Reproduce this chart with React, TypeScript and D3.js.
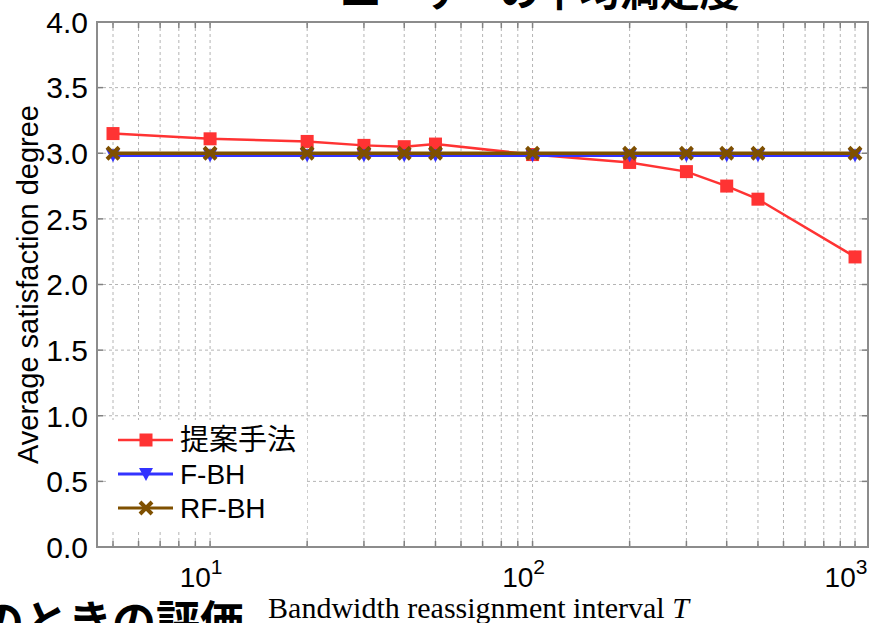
import * as d3 from 'd3';
import React, { useEffect, useRef } from 'react';

// data
const intervals = [5, 10, 20, 30, 40, 50, 100, 200, 300, 400, 500, 1000];
const proposed = [3.15, 3.11, 3.09, 3.06, 3.05, 3.07, 2.99, 2.93, 2.86, 2.75, 2.65, 2.21];
const fbh = [2.985, 2.985, 2.985, 2.985, 2.985, 2.985, 2.985, 2.985, 2.985, 2.985, 2.985, 2.985];
const rfbh = [3.0, 3.0, 3.0, 3.0, 3.0, 3.0, 3.0, 3.0, 3.0, 3.0, 3.0, 3.0];
const seriesNames = ['提案手法', 'F-BH', 'RF-BH'];
const seriesColors = ['#ff3333', '#3333ff', '#7f5000'];
const yTicks = [0, 0.5, 1.0, 1.5, 2.0, 2.5, 3.0, 3.5, 4.0];
const xMajor = [10, 100, 1000];

const W = 879;
const H = 623;

export default function App() {
    const ref = useRef<SVGSVGElement>(null);

    useEffect(() => {
        const svg = d3.select(ref.current);
        svg.selectAll('*').remove();

        const margin = { top: 22, right: 11, bottom: 76, left: 97 };
        const iw = W - margin.left - margin.right;
        const ih = H - margin.top - margin.bottom;

        const x = d3.scaleLog().domain([4.46, 1097]).range([0, iw]);
        const y = d3.scaleLinear().domain([0, 4]).range([ih, 0]);

        // slide text that the crop cuts off, above and below the figure
        svg.append('text')
            .attr('x', 540).attr('y', 6)
            .attr('text-anchor', 'middle')
            .attr('font-family', 'Noto Sans CJK JP')
            .attr('font-weight', 'bold')
            .attr('font-size', 40)
            .attr('fill', 'black')
            .text('ユーザーの平均満足度');
        svg.append('text')
            .attr('x', -20).attr('y', 638)
            .attr('font-family', 'Noto Sans CJK JP')
            .attr('font-weight', 'bold')
            .attr('font-size', 44)
            .attr('fill', 'black')
            .text('のときの評価');

        const g = svg.append('g')
            .attr('transform', `translate(${margin.left},${margin.top})`);

        // minor tick values 5..9, 10..90, 100..900, 1000
        const minor: number[] = [];
        [1, 10, 100].forEach((dec) => {
            for (let k = 1; k < 10; k++) {
                const v = k * dec;
                if (v >= 4.46) minor.push(v);
            }
        });
        minor.push(1000);

        // grid
        g.append('g').selectAll('line')
            .data(minor)
            .enter().append('line')
            .attr('x1', (d) => x(d)).attr('x2', (d) => x(d))
            .attr('y1', 0).attr('y2', ih)
            .attr('stroke', '#b4b4b4')
            .attr('stroke-width', 1)
            .attr('stroke-dasharray', '3,3');
        g.append('g').selectAll('line')
            .data(yTicks.slice(1, -1))
            .enter().append('line')
            .attr('x1', 0).attr('x2', iw)
            .attr('y1', (d) => y(d)).attr('y2', (d) => y(d))
            .attr('stroke', '#b4b4b4')
            .attr('stroke-width', 1)
            .attr('stroke-dasharray', '3,3');

        // inward ticks on all four sides
        const tickColor = '#808080';
        const tl = 6;
        minor.forEach((v) => {
            g.append('line').attr('x1', x(v)).attr('x2', x(v)).attr('y1', ih).attr('y2', ih - tl)
                .attr('stroke', tickColor).attr('stroke-width', 1.5);
            g.append('line').attr('x1', x(v)).attr('x2', x(v)).attr('y1', 0).attr('y2', tl)
                .attr('stroke', tickColor).attr('stroke-width', 1.5);
        });
        yTicks.forEach((v) => {
            g.append('line').attr('x1', 0).attr('x2', tl).attr('y1', y(v)).attr('y2', y(v))
                .attr('stroke', tickColor).attr('stroke-width', 1.5);
            g.append('line').attr('x1', iw).attr('x2', iw - tl).attr('y1', y(v)).attr('y2', y(v))
                .attr('stroke', tickColor).attr('stroke-width', 1.5);
        });

        // frame
        g.append('rect')
            .attr('width', iw).attr('height', ih)
            .attr('fill', 'none')
            .attr('stroke', '#8c8c8c')
            .attr('stroke-width', 2);

        // tick labels
        g.append('g').selectAll('text')
            .data(yTicks)
            .enter().append('text')
            .attr('x', -9)
            .attr('y', (d) => y(d))
            .attr('dy', '0.36em')
            .attr('text-anchor', 'end')
            .attr('font-family', 'Liberation Sans, Arial')
            .attr('font-size', 30)
            .attr('fill', 'black')
            .text((d) => d3.format('.1f')(d));

        const xl = g.append('g').selectAll('text')
            .data(xMajor)
            .enter().append('text')
            .attr('x', (d) => x(d) - 9)
            .attr('y', ih + 40)
            .attr('text-anchor', 'middle')
            .attr('font-family', 'Liberation Sans, Arial')
            .attr('font-size', 28)
            .attr('fill', 'black');
        xl.append('tspan').text('10');
        xl.append('tspan')
            .attr('dy', -13)
            .attr('font-size', 21)
            .text((d) => String(Math.round(Math.log10(d))));

        // axis titles
        const xt = g.append('text')
            .attr('x', iw / 2 - 4)
            .attr('y', ih + 71)
            .attr('text-anchor', 'middle')
            .attr('font-family', 'Liberation Serif, DejaVu Serif')
            .attr('font-size', 30)
            .attr('fill', 'black');
        xt.append('tspan').text('Bandwidth reassignment interval ');
        xt.append('tspan').attr('font-style', 'italic').text('T');

        g.append('text')
            .attr('transform', `translate(${-59},${ih / 2})rotate(-90)`)
            .attr('text-anchor', 'middle')
            .attr('font-family', 'Liberation Sans, Arial')
            .attr('font-size', 29)
            .attr('fill', 'black')
            .text('Average satisfaction degree');

        // series
        const allSeries = [proposed, fbh, rfbh];
        const line = d3.line<number>()
            .x((_, i) => x(intervals[i]))
            .y((d) => y(d));

        const drawMarker = (sel: d3.Selection<SVGGElement, unknown, null, undefined>, idx: number, cx: number, cy: number) => {
            const c = seriesColors[idx];
            if (idx === 0) {
                sel.append('rect').attr('x', cx - 6.5).attr('y', cy - 6.5)
                    .attr('width', 13).attr('height', 13).attr('fill', c);
            } else if (idx === 1) {
                sel.append('path')
                    .attr('d', `M${cx - 7},${cy - 6}L${cx + 7},${cy - 6}L${cx},${cy + 7}Z`)
                    .attr('fill', c);
            } else {
                sel.append('path')
                    .attr('d', `M${cx - 6},${cy - 6}L${cx + 6},${cy + 6}M${cx - 6},${cy + 6}L${cx + 6},${cy - 6}`)
                    .attr('stroke', c).attr('stroke-width', 4);
            }
        };

        allSeries.forEach((vals, idx) => {
            const sg = g.append('g');
            sg.append('path')
                .datum(vals)
                .attr('d', line)
                .attr('fill', 'none')
                .attr('stroke', seriesColors[idx])
                .attr('stroke-width', idx === 0 ? 2.5 : 3.5);
            vals.forEach((v, i) => drawMarker(sg, idx, x(intervals[i]), y(v)));
        });

        // legend
        const lg = g.append('g').attr('transform', `translate(10,${ih - 127})`);
        lg.append('rect')
            .attr('x', 0).attr('y', 0)
            .attr('width', 200).attr('height', 110)
            .attr('fill', 'white');
        seriesNames.forEach((name, idx) => {
            const ly = 20 + idx * 34;
            lg.append('line')
                .attr('x1', 11).attr('x2', 66)
                .attr('y1', ly).attr('y2', ly)
                .attr('stroke', seriesColors[idx])
                .attr('stroke-width', idx === 0 ? 2.5 : 3);
            const mg = lg.append('g');
            drawMarker(mg, idx, 39, ly);
            lg.append('text')
                .attr('x', 73)
                .attr('y', ly)
                .attr('dy', '0.36em')
                .attr('font-family', idx === 0 ? 'Noto Sans CJK JP' : 'Liberation Sans, Arial')
                .attr('font-size', idx === 0 ? 29 : 28)
                .attr('fill', 'black')
                .text(name);
        });
    }, []);

    return (
        <svg ref={ref} width={W} height={H}
            style={{ position: 'absolute', left: 0, top: 0, background: 'white' }} />
    );
}
